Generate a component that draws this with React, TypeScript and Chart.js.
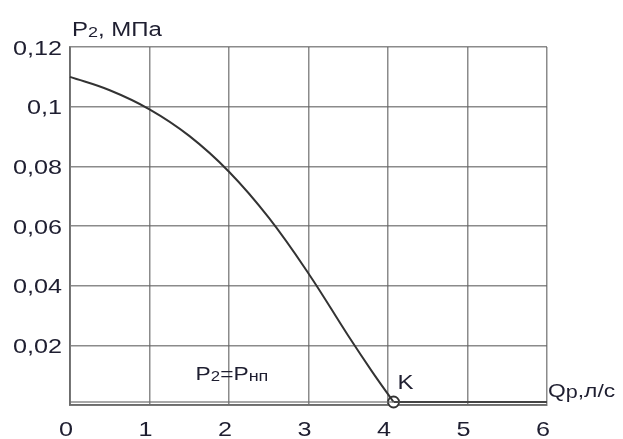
import React, { useEffect, useRef } from "react";
import { Chart, registerables } from "chart.js";

Chart.register(...registerables);

const curveQ = [0, 0.5, 1.0, 1.5, 2.0, 2.5, 3.0, 3.5, 3.8, 4.07];
const curveP = [0.11, 0.1055, 0.0991, 0.0902, 0.0782, 0.0628, 0.0441, 0.0232, 0.0112, 0.001];
const flatQ = [4.07, 6];
const flatP = [0.001, 0.001];
const baseQ = [0, 4.07];
const baseP = [0.001, 0.001];
const pointK = { q: 4.07, p: 0.001 };
const xTicks = [0, 1, 2, 3, 4, 5, 6];
const yTicks = [0, 0.02, 0.04, 0.06, 0.08, 0.1, 0.12];
const yTickLabels = ["", "0,02", "0,04", "0,06", "0,08", "0,1", "0,12"];
const xTickLabels = ["0", "1", "2", "3", "4", "5", "6"];

const FONT = "'Liberation Sans', Arial, sans-serif";
const TXT = "#1e1e30";
const SX = 1.2;

type Seg = { t: string; s: number; dy?: number };
function segWidth(ctx: CanvasRenderingContext2D, segs: Seg[]) {
  let w = 0;
  for (const sg of segs) {
    ctx.font = `${sg.s}px ${FONT}`;
    w += ctx.measureText(sg.t).width * SX;
  }
  return w;
}
function drawSegs(ctx: CanvasRenderingContext2D, x: number, y: number, segs: Seg[]) {
  let cx = x;
  for (const sg of segs) {
    ctx.font = `${sg.s}px ${FONT}`;
    ctx.save();
    ctx.translate(cx, y + (sg.dy || 0));
    ctx.scale(SX, 1);
    ctx.fillText(sg.t, 0, 0);
    ctx.restore();
    cx += ctx.measureText(sg.t).width * SX;
  }
}

const textPlugin = {
  id: "texts",
  afterDraw(chart: any) {
    const ctx = chart.ctx as CanvasRenderingContext2D;
    const xs = chart.scales.x;
    const ys = chart.scales.y;
    const area = chart.chartArea;
    ctx.save();
    ctx.fillStyle = TXT;
    ctx.textBaseline = "alphabetic";
    ctx.textAlign = "left";
    yTicks.forEach((v, i) => {
      const segs = [{ t: yTickLabels[i], s: 21 }];
      const w = segWidth(ctx, segs);
      drawSegs(ctx, area.left - 8 - w, ys.getPixelForValue(v) + 7.5, segs);
    });
    xTicks.forEach((v, i) => {
      const segs = [{ t: xTickLabels[i], s: 21 }];
      const w = segWidth(ctx, segs);
      drawSegs(ctx, xs.getPixelForValue(v) - 4 - w / 2, area.bottom + 31, segs);
    });
    drawSegs(ctx, area.left + 2, 36, [
      { t: "P", s: 20 },
      { t: "2", s: 15, dy: 1 },
      { t: ", МПа", s: 20 },
    ]);
    drawSegs(ctx, xs.getPixelForValue(1.58), 380, [
      { t: "P", s: 19 },
      { t: "2", s: 14, dy: 1 },
      { t: "=P", s: 19 },
      { t: "нп", s: 15, dy: 1 },
    ]);
    drawSegs(ctx, xs.getPixelForValue(pointK.q) + 4, ys.getPixelForValue(pointK.p) - 13, [
      { t: "K", s: 20 },
    ]);
    drawSegs(ctx, area.right + 1, 397, [
      { t: "Q", s: 19 },
      { t: "р", s: 18, dy: 1 },
      { t: ",л/с", s: 19 },
    ]);
    ctx.restore();
  },
};

export default function App() {
  const ref = useRef<HTMLCanvasElement>(null);
  useEffect(() => {
    if (!ref.current) return;
    const chart = new Chart(ref.current, {
      type: "scatter",
      data: {
        datasets: [
          {
            data: baseQ.map((q, i) => ({ x: q, y: baseP[i] })),
            showLine: true,
            borderColor: "rgba(110,110,110,0.8)",
            borderWidth: 1.5,
            pointRadius: 0,
          },
          {
            data: flatQ.map((q, i) => ({ x: q, y: flatP[i] })),
            showLine: true,
            borderColor: "#444",
            borderWidth: 2,
            pointRadius: 0,
          },
          {
            data: curveQ.map((q, i) => ({ x: q, y: curveP[i] })),
            showLine: true,
            borderColor: "#333",
            borderWidth: 2,
            pointRadius: 0,
            tension: 0.4,
          },
          {
            data: [{ x: pointK.q, y: pointK.p }],
            pointRadius: 5.5,
            pointBackgroundColor: "#fff",
            pointBorderColor: "#333",
            pointBorderWidth: 1.8,
          },
        ],
      },
      options: {
        animation: false,
        responsive: false,
        maintainAspectRatio: false,
        clip: false,
        layout: { padding: { top: 47, right: 76, left: 0, bottom: 0 } },
        plugins: { legend: { display: false }, tooltip: { enabled: false } },
        scales: {
          x: {
            type: "linear",
            min: 0,
            max: 6,
            afterBuildTicks: (axis: any) => {
              axis.ticks = xTicks.map((v) => ({ value: v }));
            },
            afterFit: (axis: any) => {
              axis.height = 34;
            },
            grid: { color: "rgba(100,100,100,0.75)", lineWidth: 1.5, drawTicks: false },
            border: { color: "rgba(100,100,100,0.8)", width: 2 },
            ticks: { display: false },
          },
          y: {
            type: "linear",
            min: 0,
            max: 0.12,
            afterBuildTicks: (axis: any) => {
              axis.ticks = yTicks.map((v) => ({ value: v }));
            },
            afterFit: (axis: any) => {
              axis.width = 70;
            },
            grid: { color: "rgba(100,100,100,0.75)", lineWidth: 1.5, drawTicks: false },
            border: { color: "rgba(100,100,100,0.8)", width: 2 },
            ticks: { display: false },
          },
        },
      },
      plugins: [textPlugin],
    } as any);
    return () => chart.destroy();
  }, []);
  return (
    <div style={{ position: "fixed", left: 0, top: 0, width: 623, height: 439, background: "#fff" }}>
      <canvas ref={ref} width={623} height={439} style={{ width: 623, height: 439 }} />
    </div>
  );
}
